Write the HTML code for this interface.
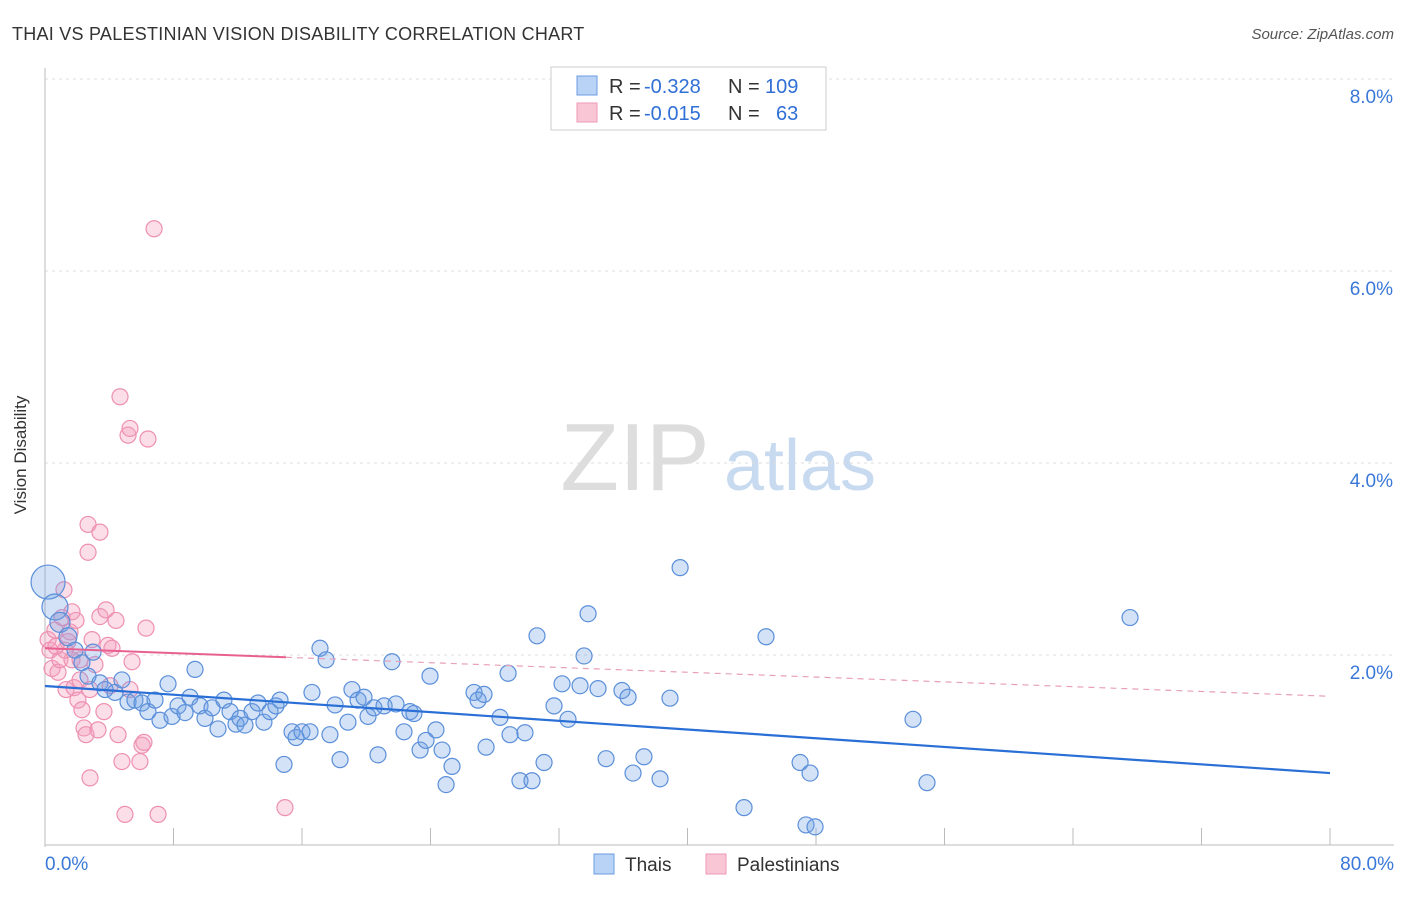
<!DOCTYPE html>
<html><head><meta charset="utf-8"><style>
body{margin:0;background:#fff;font-family:"Liberation Sans",sans-serif}
svg text{font-family:"Liberation Sans",sans-serif}
</style></head><body>
<svg id="chart" width="1406" height="892">
<text x="12" y="40" font-size="18" fill="#333" letter-spacing="0.25">THAI VS PALESTINIAN VISION DISABILITY CORRELATION CHART</text>
<text x="1394" y="39" font-size="15" fill="#555" font-style="italic" text-anchor="end">Source: ZipAtlas.com</text>
<text x="26" y="455" font-size="17" fill="#333" transform="rotate(-90 26 455)" text-anchor="middle">Vision Disability</text>
<g><text x="635" y="490" font-size="96" fill="#ddd" font-family="Liberation Serif" text-anchor="middle">ZIP</text><text x="800" y="490" font-size="72" fill="#c8daf0" text-anchor="middle">atlas</text></g>
<g id="grid"></g><g id="axes"></g><g id="pts"></g><g id="lines"></g>
<g>
<rect x="551" y="67" width="275" height="63" fill="#fff" stroke="#ccc"/>
<rect x="577" y="76" width="20" height="19" fill="#b8d3f5" stroke="#6b9be0"/>
<rect x="577" y="103" width="20" height="19" fill="#f9c6d6" stroke="#ee9ab6"/>
<text x="609" y="93" font-size="20" fill="#333">R =</text>
<text x="644" y="93" font-size="20" fill="#2f6fd6">-0.328</text>
<text x="728" y="93" font-size="20" fill="#333">N =</text>
<text x="765" y="93" font-size="20" fill="#2f6fd6">109</text>
<text x="609" y="120" font-size="20" fill="#333">R =</text>
<text x="644" y="120" font-size="20" fill="#2f6fd6">-0.015</text>
<text x="728" y="120" font-size="20" fill="#333">N =</text>
<text x="776" y="120" font-size="20" fill="#2f6fd6">63</text>
</g>
<g>
<rect x="594" y="854" width="20" height="20" fill="#b8d3f5" stroke="#6b9be0"/>
<text x="625" y="871" font-size="19" fill="#333">Thais</text>
<rect x="706" y="854" width="20" height="20" fill="#f9c6d6" stroke="#ee9ab6"/>
<text x="737" y="871" font-size="19" fill="#333">Palestinians</text>
</g>
</svg>
<script>
const yTicks=[2,4,6,8];
const yTickLabels=["2.0%","4.0%","6.0%","8.0%"];
const xTickLabels=["0.0%","80.0%"];
const thaiX=[0.19,0.62,0.93,1.43,1.87,2.30,2.99,2.68,3.42,3.74,4.36,4.79,5.17,5.60,6.04,6.41,6.85,7.16,7.66,7.91,8.28,8.72,9.03,9.34,9.65,9.96,10.40,10.77,11.14,11.52,11.89,12.14,12.45,12.89,13.26,13.63,14.01,14.38,14.63,14.88,15.38,15.63,16.00,16.50,16.62,17.12,17.50,17.74,18.06,18.37,18.86,19.11,19.49,19.86,20.11,20.48,20.73,21.11,21.60,21.85,22.35,22.72,22.97,23.35,23.72,23.97,24.34,24.72,24.97,25.34,26.71,26.96,27.33,27.46,28.33,28.83,28.95,29.57,29.88,30.32,30.63,31.07,31.69,32.19,32.56,33.31,33.56,33.81,34.43,34.93,35.92,36.30,36.61,37.29,38.29,38.91,39.54,43.52,44.89,47.01,47.38,47.63,47.94,54.04,54.91,67.55];
const thaiY=[2.76,2.50,2.34,2.19,2.05,1.92,2.03,1.78,1.71,1.64,1.61,1.74,1.51,1.53,1.50,1.41,1.53,1.32,1.70,1.36,1.47,1.40,1.56,1.85,1.47,1.34,1.45,1.23,1.53,1.41,1.28,1.34,1.27,1.41,1.50,1.30,1.41,1.47,1.53,0.86,1.20,1.14,1.20,1.20,1.61,2.07,1.95,1.17,1.48,0.91,1.30,1.64,1.53,1.56,1.36,1.45,0.96,1.47,1.93,1.49,1.20,1.41,1.39,1.01,1.11,1.78,1.22,1.01,0.65,0.84,1.61,1.53,1.59,1.04,1.35,1.81,1.17,0.69,1.19,0.69,2.20,0.88,1.47,1.70,1.33,1.68,1.99,2.43,1.65,0.92,1.63,1.56,0.77,0.94,0.71,1.55,2.91,0.41,2.19,0.88,0.23,0.77,0.21,1.33,0.67,2.39];
const thaiW=[17,13,10,9];
const palX=[0.19,0.31,0.44,0.62,0.81,0.93,1.06,1.18,1.31,1.43,1.56,1.68,1.81,1.93,2.05,2.18,2.30,2.43,2.55,2.68,2.68,2.80,2.93,3.11,3.30,3.42,3.42,3.67,3.80,3.92,4.05,4.17,4.42,4.55,4.67,4.79,4.98,5.17,5.29,5.42,5.91,6.04,6.16,6.29,6.41,6.79,7.04,14.94,1.25,1.68,2.18,0.68,2.80,5.29];
const palY=[2.16,2.05,1.86,2.26,1.82,1.95,2.39,2.68,1.64,2.14,2.24,1.95,1.66,2.36,1.53,1.74,1.43,1.24,1.17,3.36,3.07,0.72,2.16,1.90,1.22,3.28,2.40,1.41,2.47,2.10,1.68,2.07,2.36,1.17,4.69,0.89,0.34,4.29,4.36,1.93,0.89,1.06,1.09,2.28,4.25,6.44,0.34,0.41,2.05,2.45,1.95,2.09,1.64,1.64];
const thaiTrend=[1.677,0.77];
const palTrend=[2.07,1.57];
const palSolidEnd=15;
const NS="http://www.w3.org/2000/svg";
const X=v=>45+v/80*1285, Y=v=>847-v*96;
function mk(tag,attrs,parent){const e=document.createElementNS(NS,tag);for(const k in attrs)e.setAttribute(k,attrs[k]);parent.appendChild(e);return e;}
const grid=document.getElementById('grid'),axes=document.getElementById('axes'),pts=document.getElementById('pts'),lines=document.getElementById('lines');
yTicks.forEach((t,i)=>{
 const l=mk('line',{x1:45,x2:1394,y1:Y(t),y2:Y(t),stroke:'#ddd','stroke-dasharray':'3,4'},grid);
 
 
 const tx=mk('text',{x:1393,y:Y(t)+24,'font-size':19,fill:'#3a78d8','text-anchor':'end'},axes);
 tx.textContent=yTickLabels[i];
 
 
});
const al=mk('line',{x1:45,x2:45,y1:68,y2:847,stroke:'#bbb'},axes);


const bl=mk('line',{x1:45,x2:1394,y1:845,y2:845,stroke:'#bbb'},axes);


for(let i=1;i<=10;i++){const t=mk('line',{x1:X(i*8),x2:X(i*8),y1:828,y2:845,stroke:'#bbb'},axes);
 
 }
[[0,'start',45],[80,'end',1394]].forEach((a,i)=>{const t=mk('text',{x:a[2],y:870,'font-size':19,fill:'#3a78d8','text-anchor':a[1]},axes);t.textContent=xTickLabels[i];
 
 });
palX.forEach((v,i)=>{const c=mk('circle',{cx:X(v),cy:Y(palY[i]),r:8,fill:'rgba(244,160,190,0.35)',stroke:'#ee90b2','stroke-width':1.2},pts);
 
 });
thaiX.forEach((v,i)=>{const c=mk('circle',{cx:X(v),cy:Y(thaiY[i]),r:thaiW[i]||8,fill:'rgba(110,160,230,0.3)',stroke:'#5b8fd9','stroke-width':1.2},pts);
 
 });
const tl=mk('line',{x1:X(0),y1:Y(thaiTrend[0]),x2:X(80),y2:Y(thaiTrend[1]),stroke:'#2a6fd6','stroke-width':2.2},lines);


const pm=palTrend[0]+(palTrend[1]-palTrend[0])*palSolidEnd/80;
const ps=mk('line',{x1:X(0),y1:Y(palTrend[0]),x2:X(palSolidEnd),y2:Y(pm),stroke:'#e8608f','stroke-width':2},lines);


const pd=mk('line',{x1:X(palSolidEnd),y1:Y(pm),x2:X(80),y2:Y(palTrend[1]),stroke:'#e8a0b8','stroke-width':1.2,'stroke-dasharray':'6,5'},lines);


</script>
</body></html>
